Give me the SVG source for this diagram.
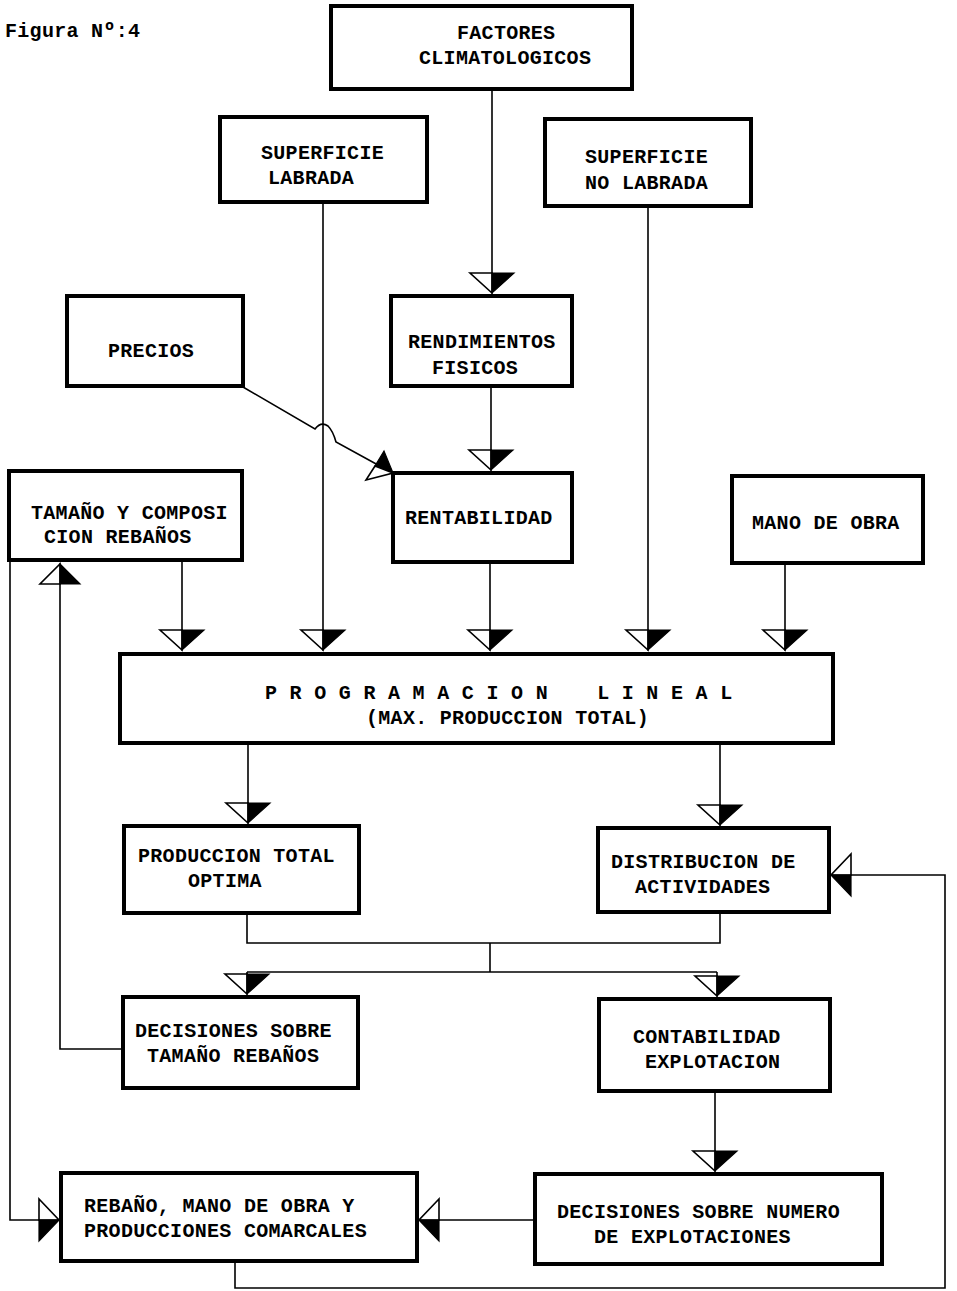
<svg xmlns="http://www.w3.org/2000/svg" width="957" height="1291" viewBox="0 0 957 1291">
<style>
.box{fill:#fff;stroke:#000;stroke-width:4}
.t{font-family:"Liberation Mono",monospace;font-weight:bold;font-size:20px;letter-spacing:0.3px;fill:#000}
.c{fill:none;stroke:#000;stroke-width:1.6}
.w{fill:#fff;stroke:#000;stroke-width:1.6;stroke-linejoin:miter}
.b{fill:#000;stroke:#000;stroke-width:1.2}
</style>
<defs>
<marker id="aDown" markerUnits="userSpaceOnUse" viewBox="-2 -2 48 26" markerWidth="48" markerHeight="26" refX="22" refY="21" orient="0" overflow="visible">
<path class="w" d="M0,1 L22,1 L22,21 Z"/><path class="b" d="M22,1 L44,1 L22,21 Z"/>
</marker>
<marker id="aUp" markerUnits="userSpaceOnUse" viewBox="-2 -2 46 26" markerWidth="46" markerHeight="26" refX="20" refY="1" orient="0" overflow="visible">
<path class="w" d="M0,21 L20,21 L20,1 Z"/><path class="b" d="M20,21 L40,21 L20,1 Z"/>
</marker>
<marker id="aRight" markerUnits="userSpaceOnUse" viewBox="-2 -2 26 46" markerWidth="26" markerHeight="46" refX="21" refY="21" orient="0" overflow="visible">
<path class="w" d="M1,0 L1,21 L21,21 Z"/><path class="b" d="M1,21 L1,42 L21,21 Z"/>
</marker>
<marker id="aLeft" markerUnits="userSpaceOnUse" viewBox="-2 -2 26 46" markerWidth="26" markerHeight="46" refX="1" refY="21" orient="0" overflow="visible">
<path class="w" d="M21,0 L21,21 L1,21 Z"/><path class="b" d="M21,21 L21,42 L1,21 Z"/>
</marker>
</defs>
<rect width="957" height="1291" fill="#fff"/>
<text class="t" x="5" y="37" font-size="17">Figura Nº:4</text>

<g id="connectors">
<path class="c" d="M492,89 V293" marker-end="url(#aDown)"/>
<path class="c" d="M491,386 V470" marker-end="url(#aDown)"/>
<path class="c" d="M323,202 V650" marker-end="url(#aDown)"/>
<path class="c" d="M648,206 V650" marker-end="url(#aDown)"/>
<path class="c" d="M182,560 V650" marker-end="url(#aDown)"/>
<path class="c" d="M490,562 V650" marker-end="url(#aDown)"/>
<path class="c" d="M785,563 V650" marker-end="url(#aDown)"/>
<path class="c" d="M243,387 L315,429 Q321,421 328,426 Q333,431 336,442 L378,465"/>
<path class="b" d="M384,451 L375,466 L393,473 Z"/>
<path class="w" d="M375,466 L366,480 L393,473 Z"/>
<path class="c" d="M248,743 V823" marker-end="url(#aDown)"/>
<path class="c" d="M720,743 V825" marker-end="url(#aDown)"/>
<path class="c" d="M247,913 V943 H720 V912"/>
<path class="c" d="M490,943 V972"/>
<path class="c" d="M247,972 H717"/>
<path class="c" d="M247,972 V994" marker-end="url(#aDown)"/>
<path class="c" d="M717,972 V996" marker-end="url(#aDown)"/>
<path class="c" d="M123,1049 H60 V564" marker-end="url(#aUp)"/>
<path class="c" d="M10,560 V1220 H59" marker-end="url(#aRight)"/>
<path class="c" d="M715,1091 V1171" marker-end="url(#aDown)"/>
<path class="c" d="M535,1220 H419" marker-end="url(#aLeft)"/>
<path class="c" d="M235,1261 V1288 H945 V875 H831" marker-end="url(#aLeft)"/>
</g>

<g id="n-factores"><rect class="box" x="331" y="6" width="301" height="83"/>
<text class="t" x="457" y="39">FACTORES</text><text class="t" x="419" y="64">CLIMATOLOGICOS</text></g>
<g id="n-sup-labrada"><rect class="box" x="220" y="117" width="207" height="85"/>
<text class="t" x="261" y="159">SUPERFICIE</text><text class="t" x="268" y="184">LABRADA</text></g>
<g id="n-sup-no-labrada"><rect class="box" x="545" y="119" width="206" height="87"/>
<text class="t" x="585" y="163">SUPERFICIE</text><text class="t" x="585" y="189">NO LABRADA</text></g>
<g id="n-precios"><rect class="box" x="67" y="296" width="176" height="90"/>
<text class="t" x="108" y="357">PRECIOS</text></g>
<g id="n-rendimientos"><rect class="box" x="391" y="296" width="181" height="90"/>
<text class="t" x="408" y="348">RENDIMIENTOS</text><text class="t" x="432" y="374">FISICOS</text></g>
<g id="n-tamano"><rect class="box" x="9" y="471" width="233" height="89"/>
<text class="t" x="31" y="519">TAMAÑO Y COMPOSI</text><text class="t" x="44" y="543">CION REBAÑOS</text></g>
<g id="n-rentabilidad"><rect class="box" x="393" y="473" width="179" height="89"/>
<text class="t" x="405" y="524">RENTABILIDAD</text></g>
<g id="n-mano-obra"><rect class="box" x="732" y="476" width="191" height="87"/>
<text class="t" x="752" y="529">MANO DE OBRA</text></g>
<g id="n-programacion"><rect class="box" x="120" y="654" width="713" height="89"/>
<text class="t" x="265" y="699" xml:space="preserve">P R O G R A M A C I O N    L I N E A L</text>
<text class="t" x="366" y="724">(MAX. PRODUCCION TOTAL)</text></g>
<g id="n-produccion"><rect class="box" x="124" y="826" width="235" height="87"/>
<text class="t" x="138" y="862">PRODUCCION TOTAL</text><text class="t" x="188" y="887">OPTIMA</text></g>
<g id="n-distribucion"><rect class="box" x="598" y="828" width="231" height="84"/>
<text class="t" x="611" y="868">DISTRIBUCION DE</text><text class="t" x="635" y="893">ACTIVIDADES</text></g>
<g id="n-decisiones-tamano"><rect class="box" x="123" y="997" width="235" height="91"/>
<text class="t" x="135" y="1037">DECISIONES SOBRE</text><text class="t" x="147" y="1062">TAMAÑO REBAÑOS</text></g>
<g id="n-contabilidad"><rect class="box" x="599" y="999" width="231" height="92"/>
<text class="t" x="633" y="1043">CONTABILIDAD</text><text class="t" x="645" y="1068">EXPLOTACION</text></g>
<g id="n-rebano"><rect class="box" x="61" y="1173" width="356" height="88"/>
<text class="t" x="84" y="1212">REBAÑO, MANO DE OBRA Y</text><text class="t" x="84" y="1237">PRODUCCIONES COMARCALES</text></g>
<g id="n-decisiones-numero"><rect class="box" x="535" y="1174" width="347" height="90"/>
<text class="t" x="557" y="1218">DECISIONES SOBRE NUMERO</text><text class="t" x="594" y="1243">DE EXPLOTACIONES</text></g>
</svg>
